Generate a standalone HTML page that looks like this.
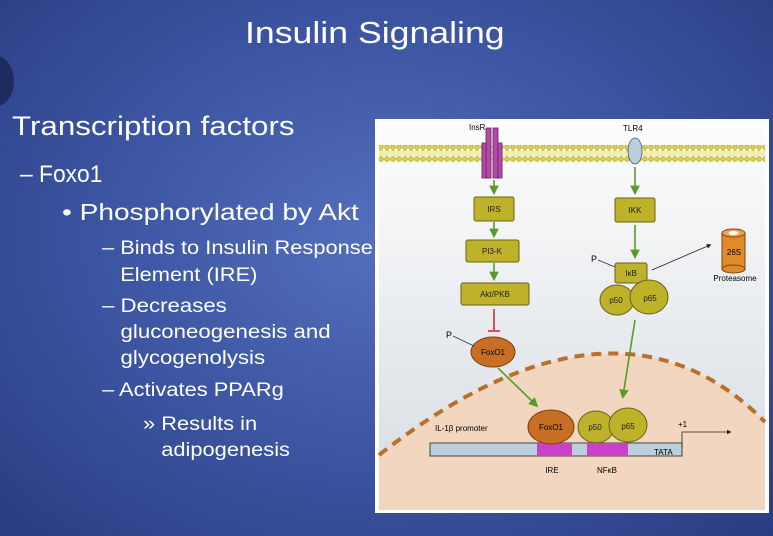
<!DOCTYPE html>
<html><head><meta charset="utf-8"><style>
body{margin:0;width:773px;height:536px;overflow:hidden;background:radial-gradient(ellipse at 50% 45%,#5470bd 0%,#3f58a6 45%,#2a3c82 100%);font-family:"Liberation Sans",sans-serif;position:relative}
.t{position:absolute;color:#fff;white-space:nowrap;transform-origin:0 0}
</style></head><body>
<div style="position:absolute;left:-22px;top:56px;width:36px;height:50px;border-radius:50%;background:#1e2b5e"></div>
<div class="t" style="left:245px;top:15px;font-size:31px;transform:scaleX(1.15)">Insulin Signaling</div>
<div class="t" style="left:12px;top:111px;font-size:27px;transform:scaleX(1.16)">Transcription factors</div>
<div class="t" style="left:20px;top:161px;font-size:24px;transform:scaleX(0.95)">– Foxo1</div>
<div class="t" style="left:62px;top:199px;font-size:23px;transform:scaleX(1.22)">• Phosphorylated by Akt</div>
<div class="t" style="left:102px;top:235px;font-size:19px;line-height:27px;transform:scaleX(1.15)">– Binds to Insulin Response<br>&nbsp;&nbsp;&nbsp;Element (IRE)</div>
<div class="t" style="left:102px;top:294px;font-size:19px;line-height:26px;transform:scaleX(1.17)">– Decreases<br>&nbsp;&nbsp;&nbsp;gluconeogenesis and<br>&nbsp;&nbsp;&nbsp;glycogenolysis</div>
<div class="t" style="left:102px;top:380px;font-size:19px;transform:scaleX(1.15)">– Activates PPARg</div>
<div class="t" style="left:143px;top:412px;font-size:19px;line-height:26px;transform:scaleX(1.15)">» Results in<br>&nbsp;&nbsp;&nbsp;adipogenesis</div>

<svg style="position:absolute;left:375px;top:119px" width="394" height="394" viewBox="375 119 394 394" font-family="Liberation Sans, sans-serif">
<defs>
<linearGradient id="bg" x1="0" y1="0" x2="0" y2="1"><stop offset="0" stop-color="#fdfdfd"/><stop offset="1" stop-color="#d6dce2"/></linearGradient>
<marker id="ga" markerWidth="6" markerHeight="6" refX="4" refY="3" orient="auto"><path d="M0,0L6,3L0,6z" fill="#5a9a2a"/></marker>
<marker id="ka" markerWidth="6" markerHeight="6" refX="4" refY="3" orient="auto"><path d="M0,0L6,3L0,6z" fill="#222"/></marker>
<pattern id="lip" width="6" height="6" patternUnits="userSpaceOnUse"><circle cx="3" cy="3" r="2.4" fill="#e0cf3a" stroke="#a8981a" stroke-width=".6"/></pattern>
</defs>
<rect x="375" y="119" width="394" height="394" fill="#fff"/>
<rect x="379" y="121" width="386" height="389" fill="url(#bg)"/>
<path d="M379,455 Q615,270 765,422 L765,510 L379,510Z" fill="#f2d6c0"/>
<path d="M379,455 Q615,270 765,422" fill="none" stroke="#b8702a" stroke-width="4" stroke-dasharray="10,7"/>
<rect x="379" y="151" width="386" height="5" fill="#f4eea0"/>
<rect x="379" y="145" width="386" height="6" fill="url(#lip)"/>
<rect x="379" y="156" width="386" height="6" fill="url(#lip)"/>
<g fill="#b24aa8" stroke="#6a2060" stroke-width=".8"><rect x="486" y="128" width="5" height="50"/><rect x="493" y="128" width="5" height="50"/><rect x="482" y="143" width="4" height="35"/><rect x="498" y="143" width="4" height="35"/></g>
<text x="469" y="130" font-size="8">InsR</text>
<ellipse cx="635" cy="151" rx="7" ry="13" fill="#b9cfd9" stroke="#556" stroke-width=".8"/>
<text x="623" y="131" font-size="8">TLR4</text>
<g fill="#bdb22a" stroke="#6b6312" stroke-width="1">
<rect x="474" y="197" width="40" height="24" rx="2"/><rect x="466" y="240" width="53" height="22" rx="2"/><rect x="461" y="283" width="68" height="22" rx="2"/>
<rect x="615" y="198" width="40" height="24" rx="2"/><rect x="615" y="263" width="32" height="20" rx="2"/>
<ellipse cx="617" cy="300" rx="17" ry="15"/><ellipse cx="649" cy="297" rx="19" ry="17"/>
<ellipse cx="596" cy="427" rx="18" ry="16"/><ellipse cx="628" cy="425" rx="19" ry="17"/>
</g>
<g font-size="8" text-anchor="middle" fill="#222">
<text x="494" y="212">IRS</text><text x="492" y="254">PI3-K</text><text x="495" y="297">Akt/PKB</text>
<text x="635" y="213">IKK</text><text x="631" y="276">IκB</text><text x="616" y="303">p50</text><text x="650" y="301">p65</text>
<text x="595" y="430">p50</text><text x="628" y="429">p65</text>
</g>
<g stroke="#5a9a2a" stroke-width="1.6" marker-end="url(#ga)">
<line x1="494" y1="180" x2="494" y2="192"/><line x1="494" y1="222" x2="494" y2="235"/><line x1="494" y1="263" x2="494" y2="278"/>
<line x1="635" y1="167" x2="635" y2="192"/><line x1="635" y1="225" x2="635" y2="256"/>
<line x1="498" y1="368" x2="536" y2="405"/><line x1="635" y1="320" x2="623" y2="396"/>
</g>
<line x1="494" y1="309" x2="494" y2="330" stroke="#c8303a" stroke-width="1.6"/><line x1="488" y1="331" x2="500" y2="331" stroke="#c8303a" stroke-width="1.6"/>
<ellipse cx="493" cy="352" rx="22" ry="15" fill="#c96e25" stroke="#7a3e10"/><text x="493" y="355" font-size="8" text-anchor="middle">FoxO1</text>
<text x="446" y="338" font-size="9">P</text><line x1="453" y1="336" x2="474" y2="346" stroke="#333" stroke-width=".7"/>
<text x="591" y="262" font-size="9">P</text><line x1="598" y1="260" x2="615" y2="267" stroke="#333" stroke-width=".7"/>
<line x1="652" y1="270" x2="710" y2="245" stroke="#222" stroke-width=".8" marker-end="url(#ka)"/>
<rect x="722" y="233" width="23" height="36" fill="#e08a2a" stroke="#7a4510"/><ellipse cx="733.5" cy="269" rx="11.5" ry="4" fill="#e08a2a" stroke="#7a4510"/><ellipse cx="733.5" cy="233" rx="11.5" ry="4" fill="#f3a04a" stroke="#7a4510"/><ellipse cx="733.5" cy="233" rx="5" ry="2" fill="#fff"/>
<text x="734" y="255" font-size="8" text-anchor="middle">26S</text><text x="735" y="281" font-size="8" text-anchor="middle">Proteasome</text>
<rect x="430" y="443" width="252" height="13" fill="#b9cfd9" stroke="#444"/>
<rect x="537" y="443" width="35" height="13" fill="#cc3fc8"/><rect x="587" y="443" width="41" height="13" fill="#cc3fc8"/>
<text x="654" y="455" font-size="8">TATA</text>
<ellipse cx="551" cy="427" rx="23" ry="17" fill="#c96e25" stroke="#7a3e10"/><text x="551" y="430" font-size="8" text-anchor="middle">FoxO1</text>
<text x="435" y="431" font-size="8">IL-1β promoter</text><text x="678" y="427" font-size="8">+1</text>
<polyline points="682,448 682,432 730,432" fill="none" stroke="#222" stroke-width=".8" marker-end="url(#ka)"/>
<text x="552" y="473" font-size="8" text-anchor="middle">IRE</text><text x="607" y="473" font-size="8" text-anchor="middle">NFκB</text>
</svg>
</body></html>
